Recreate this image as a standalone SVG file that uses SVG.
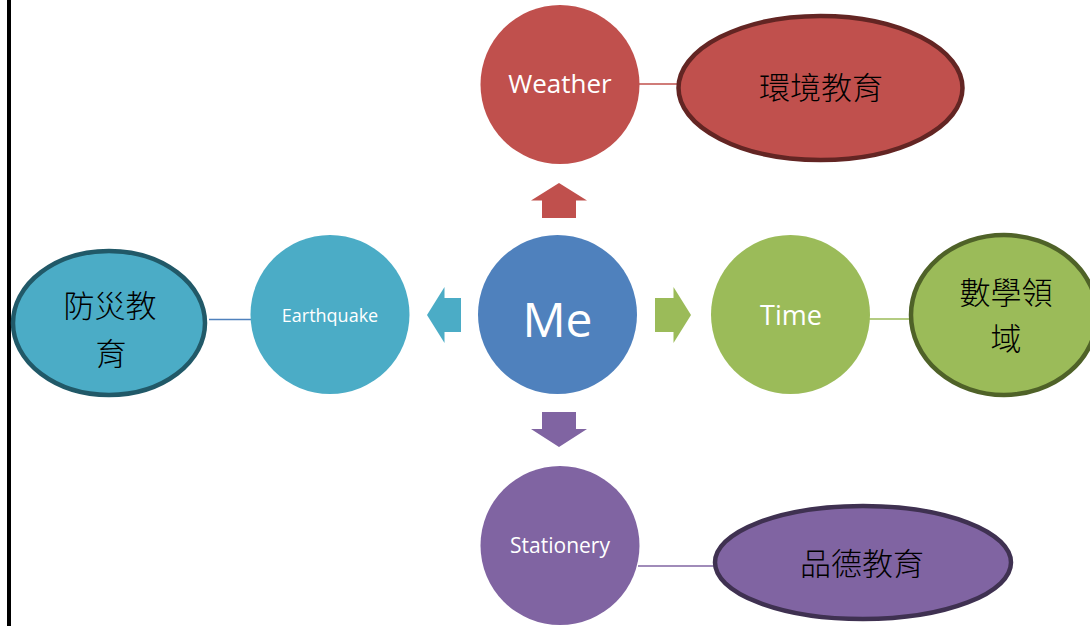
<svg xmlns="http://www.w3.org/2000/svg" width="1090" height="626" viewBox="0 0 1090 626">
<style>
.lbl{font-family:"Open Sans","Liberation Sans",sans-serif;fill:#ffffff;text-anchor:middle}
.cjk{font-family:"Noto Sans CJK TC","Noto Sans CJK SC",sans-serif;font-size:31px;font-weight:300;fill:#000000;text-anchor:middle}
.ell{stroke-width:4.5}
.conn{stroke-width:1.6;fill:none}
</style>
<rect x="0" y="0" width="1090" height="626" fill="#ffffff"/>
<rect x="7" y="0" width="4" height="626" fill="#000000"/>
<g id="connectors">
  <line class="conn" x1="639" y1="84" x2="678" y2="84" stroke="#C0504D"/>
  <line class="conn" x1="209" y1="319.5" x2="252" y2="319.5" stroke="#4F81BD"/>
  <line class="conn" x1="869" y1="319" x2="910" y2="319" stroke="#9BBB59"/>
  <line class="conn" x1="638" y1="566" x2="715" y2="566" stroke="#8064A2"/>
  <polygon points="559,183 587,200.5 576,200.5 576,218 542,218 542,200.5 531,200.5" fill="#C0504D"/>
  <polygon points="427,315 444.5,287 444.5,298 461,298 461,332 444.5,332 444.5,343" fill="#4BACC6"/>
  <polygon points="691,315 673.5,287 673.5,298 655,298 655,332 673.5,332 673.5,343" fill="#9BBB59"/>
  <polygon points="559,447 587,429 576,429 576,412 542,412 542,429 531,429" fill="#8064A2"/>
</g>
<g id="me">
  <circle cx="557.5" cy="314.5" r="79.5" fill="#4F81BD"/>
  <text class="lbl" x="557.5" y="337" font-size="48">Me</text>
</g>
<g id="weather">
  <circle cx="560" cy="84.5" r="79.5" fill="#C0504D"/>
  <text class="lbl" x="560" y="93" font-size="26">Weather</text>
</g>
<g id="earthquake">
  <circle cx="330" cy="314.5" r="79.5" fill="#4BACC6"/>
  <text class="lbl" x="330" y="322" font-size="18">Earthquake</text>
</g>
<g id="time">
  <circle cx="790.5" cy="314.5" r="79.5" fill="#9BBB59"/>
  <text class="lbl" x="791" y="325" font-size="27">Time</text>
</g>
<g id="stationery">
  <circle cx="560" cy="545.5" r="79.5" fill="#8064A2"/>
  <text class="lbl" x="560" y="553" font-size="21">Stationery</text>
</g>
<g id="env-edu">
  <ellipse class="ell" cx="820.5" cy="88" rx="142" ry="72" fill="#C0504D" stroke="#632523"/>
  <text class="cjk" x="821" y="99">環境教育</text>
</g>
<g id="disaster-edu">
  <ellipse class="ell" cx="109" cy="323" rx="96" ry="72" fill="#4BACC6" stroke="#215968"/>
  <text class="cjk" x="110" y="317">防災教</text>
  <text class="cjk" x="111" y="365">育</text>
</g>
<g id="math">
  <ellipse class="ell" cx="1004" cy="315" rx="93" ry="80" fill="#9BBB59" stroke="#4F6228"/>
  <text class="cjk" x="1006" y="304">數學領</text>
  <text class="cjk" x="1006" y="350">域</text>
</g>
<g id="moral-edu">
  <ellipse class="ell" cx="863" cy="562.5" rx="148" ry="56.5" fill="#8064A2" stroke="#3F3151"/>
  <text class="cjk" x="862" y="575">品德教育</text>
</g>
</svg>
